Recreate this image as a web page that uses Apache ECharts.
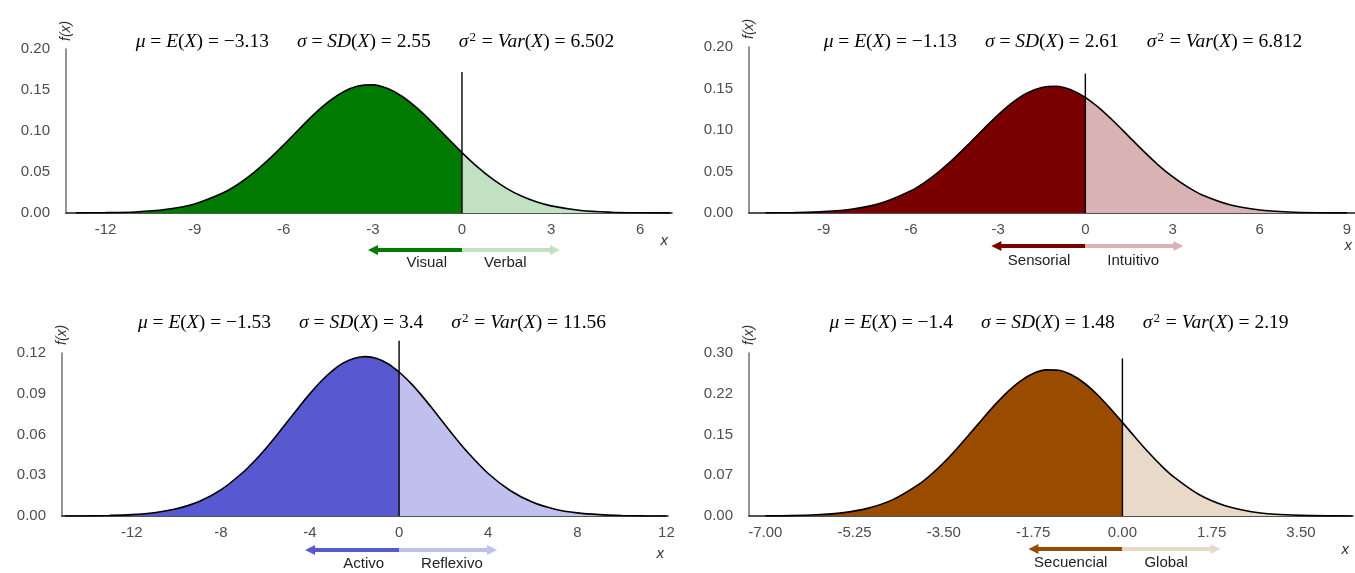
<!DOCTYPE html>
<html>
<head>
<meta charset="utf-8">
<script src="https://cdn.jsdelivr.net/npm/echarts@6/dist/echarts.min.js"></script>
<style>
html,body{margin:0;padding:0;background:#fff;}
#c{width:1355px;height:573px;}
</style>
</head>
<body>
<div id="c"></div>
<script>
// ---------- data ----------
const x1 = [-13,-12,-11,-10,-9,-8,-7.5,-7,-6.5,-6,-5.5,-5,-4.5,-4,-3.5,-3,-2.5,-2,-1.5,-1,-0.5,0,0.5,1,1.5,2,2.5,3,4,5,6,7];
const y1 = [0.0001,0.0004,0.0013,0.0042,0.0111,0.0253,0.0360,0.0495,0.0653,0.0830,0.1016,0.1196,0.1354,0.1476,0.1548,0.1563,0.1517,0.1418,0.1275,0.1104,0.0919,0.0737,0.0568,0.0421,0.0301,0.0207,0.0137,0.0087,0.0031,0.0010,0.0003,0.0001];

const x2 = [-11,-10,-9,-8,-7,-6,-5.5,-5,-4.5,-4,-3.5,-3,-2.5,-2,-1.5,-1,-0.5,0,0.5,1,1.5,2,2.5,3,3.5,4,5,6,7,8,9];
const y2 = [0.0001,0.0005,0.0016,0.0048,0.0122,0.0268,0.0376,0.0509,0.0664,0.0835,0.1012,0.1182,0.1332,0.1446,0.1513,0.1527,0.1485,0.1392,0.1258,0.1096,0.0920,0.0745,0.0581,0.0437,0.0317,0.0221,0.0097,0.0037,0.0012,0.0003,0.0001];

const x3 = [-15,-14,-13,-12,-11,-10,-9,-8,-7,-6.5,-6,-5.5,-5,-4.5,-4,-3.5,-3,-2.5,-2,-1.5,-1,-0.5,0,0.5,1,1.5,2,2.5,3,4,5,6,7,8,9,10,11,12];
const y3 = [0.0000,0.0001,0.0004,0.0010,0.0024,0.0053,0.0105,0.0192,0.0322,0.0403,0.0494,0.0593,0.0697,0.0801,0.0901,0.0992,0.1069,0.1127,0.1162,0.1173,0.1159,0.1121,0.1060,0.0982,0.0890,0.0789,0.0685,0.0581,0.0483,0.0313,0.0186,0.0101,0.0050,0.0023,0.0010,0.0004,0.0001,0.0000];

const x4 = [-7,-6.5,-6,-5.5,-5,-4.5,-4,-3.75,-3.5,-3.25,-3,-2.75,-2.5,-2.25,-2,-1.75,-1.5,-1.25,-1,-0.75,-0.5,-0.25,0,0.25,0.5,0.75,1,1.5,2,2.5,3,3.5,4,4.5];
const y4 = [0.0002,0.0007,0.0022,0.0058,0.0140,0.0301,0.0576,0.0764,0.0985,0.1234,0.1503,0.1778,0.2045,0.2286,0.2483,0.2621,0.2689,0.2682,0.2599,0.2448,0.2241,0.1993,0.1723,0.1448,0.1182,0.0938,0.0724,0.0395,0.0193,0.0084,0.0032,0.0011,0.0003,0.0001];

// axis ranges (x), tick values and labels
const xRanges = [[-13.33, 7.07], [-11.57, 9.31], [-15.13, 12.07], [-7.32, 4.52]];
const xTicks1 = [-12,-9,-6,-3,0,3,6];
const xTicks2 = [-9,-6,-3,0,3,6,9];
const xTicks3 = [-12,-8,-4,0,4,8,12];
const xTicks4 = [-7,-5.25,-3.5,-1.75,0,1.75,3.5];
const yTicks1 = [0,0.05,0.10,0.15,0.20];
const yTicks2 = [0,0.05,0.10,0.15,0.20];
const yTicks3 = [0,0.03,0.06,0.09,0.12];
const yTicks4 = [0,0.075,0.15,0.225,0.30];
const yTickLabels4 = ['0.00','0.07','0.15','0.22','0.30'];
const vlineTops = [0.172, 0.168, 0.129, 0.29];

// annotation texts
const means = ['\u22123.13','\u22121.13','\u22121.53','\u22121.4'];
const sds = ['2.55','2.61','3.4','1.48'];
const vars = ['6.502','6.812','11.56','2.19'];
const leftLabels = ['Visual','Sensorial','Activo','Secuencial'];
const rightLabels = ['Verbal','Intuitivo','Reflexivo','Global'];

// ---------- styling / layout ----------
const darkCols = ['#007a00','#7a0000','#5858d0','#994c00'];
const lightCols = ['#c2e0c2','#d9b3b3','#c0c0ee','#e8d9c8'];
const grids = [
  {left:66, top:49, width:606, height:164},
  {left:749, top:47, width:607, height:166},
  {left:62, top:353, width:606, height:163},
  {left:749, top:353, width:604, height:163}
];
const xNamePad = [20, 25, 30, 26];
const arrowOff = [37, 33, 34, 33];
const labelOff = [50, 48, 48, 47];
const titleCenters = [[375,42],[1063,42],[372,323],[1059,323]];
const xs = [x1,x2,x3,x4], ys = [y1,y2,y3,y4];
const xTicks = [xTicks1,xTicks2,xTicks3,xTicks4];
const yTicks = [yTicks1,yTicks2,yTicks3,yTicks4];

const SANS = '"Liberation Sans", Arial, sans-serif';
const SERIF = '"Liberation Serif", "Times New Roman", serif';

const chart = echarts.init(document.getElementById('c'), null, {renderer:'canvas'});

const xAxes = [], yAxes = [], series = [];
for (let i = 0; i < 4; i++) {
  xAxes.push({
    type:'value', gridIndex:i, min:xRanges[i][0], max:xRanges[i][1],
    axisLine:{show:true, onZero:false, lineStyle:{color:'#1a1a1a', width:1.6}},
    axisTick:{show:false}, splitLine:{show:false},
    axisLabel:{customValues:xTicks[i], color:'#4d4d4d', fontSize:15, fontFamily:SANS, margin:9,
      formatter: i === 3 ? (v => (v < 0 ? '-' : '') + Math.abs(v).toFixed(2)) : (v => String(v))},
    name:'x', nameLocation:'end', nameGap:-4, nameMoveOverlap:false,
    nameTextStyle:{fontStyle:'italic', fontSize:15, fontFamily:SANS, color:'#333', align:'right', verticalAlign:'top', padding:[xNamePad[i],0,0,0]}
  });
  const yt = yTicks[i];
  yAxes.push({
    type:'value', gridIndex:i, min:0, max:yt[yt.length-1],
    axisLine:{show:true, onZero:false, lineStyle:{color:'#7a7a7a', width:1.6}},
    axisTick:{show:false}, splitLine:{show:false},
    axisLabel:{customValues:yt, color:'#4d4d4d', fontSize:15, fontFamily:SANS, margin:16,
      formatter: v => { if (i === 3) { const k = yTicks4.findIndex(t => Math.abs(t - v) < 1e-9); return k >= 0 ? yTickLabels4[k] : ''; } return v.toFixed(2); }},
    name:'f(x)', nameLocation:'end', nameRotate:90, nameGap:8, nameMoveOverlap:false,
    nameTextStyle:{fontStyle:'italic', fontSize:14, fontFamily:SANS, color:'#333'}
  });
  const left = [], right = [];
  xs[i].forEach((x, k) => { if (x <= 0) left.push([x, ys[i][k]]); if (x >= 0) right.push([x, ys[i][k]]); });
  const common = {type:'line', xAxisIndex:i, yAxisIndex:i, smooth:0.3, showSymbol:false, symbol:'none', silent:true,
    lineStyle:{color:'#000', width:1.6}};
  series.push(Object.assign({}, common, {data:left, areaStyle:{color:darkCols[i], opacity:1}, z:2}));
  series.push(Object.assign({}, common, {data:right, areaStyle:{color:lightCols[i], opacity:1}, z:2}));
  series.push({type:'line', xAxisIndex:i, yAxisIndex:i, data:[[0,0],[0,vlineTops[i]]], clip:false, showSymbol:false, symbol:'none', silent:true,
    lineStyle:{color:'#000', width:1.4}, z:5});
}

chart.setOption({
  animation:false,
  backgroundColor:'#fff',
  grid: grids.map(g => Object.assign({containLabel:false, outerBoundsMode:'none'}, g)),
  xAxis: xAxes, yAxis: yAxes, series: series
});

// annotations placed from the axes' own scales
const graphics = [];
const FS = 19.5;
const rich = {
  i:{fontStyle:'italic', fontSize:FS, fontFamily:SERIF, fill:'#000'},
  n:{fontSize:FS, fontFamily:SERIF, fill:'#000'},
  s:{fontSize:13, fontFamily:SERIF, fill:'#000', verticalAlign:'top', padding:[0,1,9,1]},
  g:{width:28, fontSize:FS}
};
for (let i = 0; i < 4; i++) {
  const x0 = chart.convertToPixel({xAxisIndex:i}, 0);
  const yAx = chart.convertToPixel({yAxisIndex:i}, 0);
  const ay = yAx + arrowOff[i], ly = yAx + labelOff[i];
  // arrows
  graphics.push({type:'line', silent:true, shape:{x1:x0, y1:ay, x2:x0-85, y2:ay}, style:{stroke:darkCols[i], lineWidth:4}});
  graphics.push({type:'polygon', silent:true, shape:{points:[[x0-94,ay],[x0-84,ay-5],[x0-84,ay+5]]}, style:{fill:darkCols[i]}});
  graphics.push({type:'line', silent:true, shape:{x1:x0, y1:ay, x2:x0+89, y2:ay}, style:{stroke:lightCols[i], lineWidth:4}});
  graphics.push({type:'polygon', silent:true, shape:{points:[[x0+98,ay],[x0+88,ay-5],[x0+88,ay+5]]}, style:{fill:lightCols[i]}});
  graphics.push({type:'text', silent:true, style:{text:leftLabels[i], x:x0-15, y:ly, align:'right', verticalAlign:'middle', fontSize:15, fontFamily:SANS, fill:'#222'}});
  graphics.push({type:'text', silent:true, style:{text:rightLabels[i], x:x0+22, y:ly, align:'left', verticalAlign:'middle', fontSize:15, fontFamily:SANS, fill:'#222'}});
  // title
  const t = '{i|\u03bc}{n| = }{i|E}{n|(}{i|X}{n|) = ' + means[i] + '}{g|}' +
            '{i|\u03c3}{n| = }{i|SD}{n|(}{i|X}{n|) = ' + sds[i] + '}{g|}' +
            '{i|\u03c3}{s|2}{n| = }{i|Var}{n|(}{i|X}{n|) = ' + vars[i] + '}';
  graphics.push({type:'text', silent:true, style:{text:t, rich:rich, x:titleCenters[i][0], y:titleCenters[i][1], align:'center', verticalAlign:'middle', fontSize:FS, fontFamily:SERIF, fill:'#000'}});
}
chart.setOption({graphic: graphics});
</script>
</body>
</html>
